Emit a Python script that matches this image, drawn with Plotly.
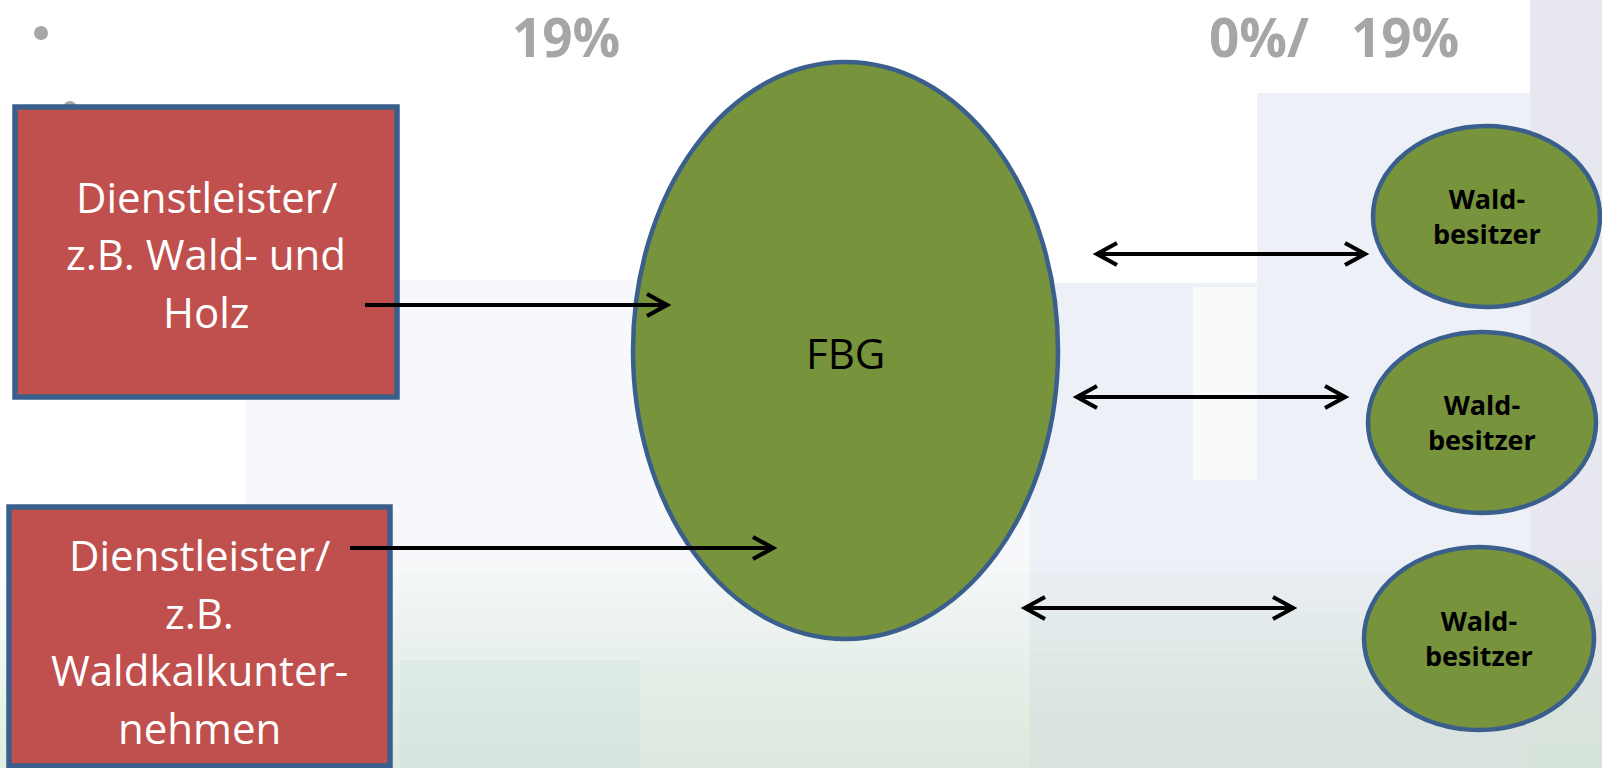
import plotly.graph_objects as go

W, H = 1602, 768

# ---- content ----
top_labels = ["19%", "0%/", "19%"]
provider_lines = [
    ["Dienstleister/", "z.B. Wald- und", "Holz"],
    ["Dienstleister/", "z.B.", "Waldkalkunter-", "nehmen"],
]
center_label = "FBG"
owner_labels = ["Wald-<br>besitzer", "Wald-<br>besitzer", "Wald-<br>besitzer"]

# ---- layout (pixel positions) ----
top_pos = [(566, 36), (1259, 36), (1405, 36)]
box_rects = [(15, 107, 397, 397), (9, 507, 390, 766)]
box_line_y = [[196, 253, 311], [554, 612, 669, 727]]
center_ellipse = (633, 62, 1058, 639)
center_text = (845, 352)
owner_ellipses = [(1373, 126, 1600, 307), (1368, 332, 1596, 513), (1364, 547, 1594, 730)]
single_arrows = [(365, 667, 305), (350, 773, 548)]
double_arrows = [(1097, 1365, 254), (1077, 1345, 397), (1025, 1293, 608)]

GREEN = "#77933c"
RED = "#c0504d"
BORDER = "#3a5f8c"
GRAY = "#a6a6a6"

fig = go.Figure()
fig.add_trace(go.Scatter(x=[0, W], y=[0, H], mode="markers",
                         marker=dict(opacity=0), hoverinfo="skip", showlegend=False))

shapes = []
# background approximation of blurred photo
bg = [
    (245, 280, 1030, 768, "#f7f8fb"),
    (1030, 283, 1602, 768, "#eef0f7"),
    (1257, 93, 1602, 283, "#eef0f7"),
    (1193, 287, 1257, 480, "#f9fafc"),
    (1530, 0, 1602, 768, "#e7e8ef"),
    (400, 660, 640, 768, "rgba(220,238,242,0.45)"),
]
for x0, y0, x1, y1, c in bg:
    shapes.append(dict(type="rect", xref="x", yref="y", x0=x0, y0=y0, x1=x1, y1=y1,
                       fillcolor=c, line=dict(width=0), layer="below"))
# soft green tint towards the bottom
for k in range(16):
    y0 = 560 + k * 13
    shapes.append(dict(type="rect", xref="x", yref="y", x0=0, y0=y0, x1=W, y1=H,
                       fillcolor="rgba(195,220,188,0.035)", line=dict(width=0), layer="below"))

# bullets
shapes.append(dict(type="circle", xref="x", yref="y", x0=34, y0=26, x1=48, y1=40,
                   fillcolor=GRAY, line=dict(width=0)))
shapes.append(dict(type="circle", xref="x", yref="y", x0=63, y0=101, x1=77, y1=115,
                   fillcolor=GRAY, line=dict(width=0)))

# provider boxes
for (x0, y0, x1, y1) in box_rects:
    shapes.append(dict(type="rect", xref="x", yref="y", x0=x0, y0=y0, x1=x1, y1=y1,
                       fillcolor=RED, line=dict(color=BORDER, width=5.5)))

# center ellipse
x0, y0, x1, y1 = center_ellipse
shapes.append(dict(type="circle", xref="x", yref="y", x0=x0, y0=y0, x1=x1, y1=y1,
                   fillcolor=GREEN, line=dict(color=BORDER, width=4.5)))

# owner ellipses
for (x0, y0, x1, y1) in owner_ellipses:
    shapes.append(dict(type="circle", xref="x", yref="y", x0=x0, y0=y0, x1=x1, y1=y1,
                       fillcolor=GREEN, line=dict(color=BORDER, width=4.5)))

AX, AY = 20, 11
def head(xt, y, direction):
    bx = xt - direction * AX
    return f"M{bx},{y - AY} L{xt},{y} L{bx},{y + AY}"

LW = 4.2
for (xa, xb, y) in single_arrows:
    shapes.append(dict(type="line", xref="x", yref="y", x0=xa, y0=y, x1=xb - 2, y1=y,
                       line=dict(color="black", width=LW)))
    shapes.append(dict(type="path", xref="x", yref="y", path=head(xb, y, 1),
                       line=dict(color="black", width=LW)))
for (xa, xb, y) in double_arrows:
    shapes.append(dict(type="line", xref="x", yref="y", x0=xa + 2, y0=y, x1=xb - 2, y1=y,
                       line=dict(color="black", width=LW)))
    shapes.append(dict(type="path", xref="x", yref="y", path=head(xb, y, 1),
                       line=dict(color="black", width=LW)))
    shapes.append(dict(type="path", xref="x", yref="y", path=head(xa, y, -1),
                       line=dict(color="black", width=LW)))

annotations = []
for lab, (x, y) in zip(top_labels, top_pos):
    annotations.append(dict(x=x, y=y, xref="x", yref="y", text=lab, showarrow=False,
                            xanchor="center", yanchor="middle",
                            font=dict(family="Open Sans", size=53, color=GRAY, weight="bold")))

for lines, (x0, y0, x1, y1), ys in zip(provider_lines, box_rects, box_line_y):
    cx = (x0 + x1) / 2
    for t, y in zip(lines, ys):
        annotations.append(dict(x=cx, y=y, xref="x", yref="y", text=t, showarrow=False,
                                xanchor="center", yanchor="middle",
                                font=dict(family="Open Sans", size=42, color="white")))

annotations.append(dict(x=center_text[0], y=center_text[1], xref="x", yref="y",
                        text=center_label, showarrow=False, xanchor="center", yanchor="middle",
                        font=dict(family="Open Sans", size=42, color="black")))

for lab, (x0, y0, x1, y1) in zip(owner_labels, owner_ellipses):
    annotations.append(dict(x=(x0 + x1) / 2, y=(y0 + y1) / 2 - 1, xref="x", yref="y",
                            text=lab, showarrow=False, xanchor="center", yanchor="middle",
                            font=dict(family="Open Sans", size=27, color="black", weight="bold")))

fig.update_layout(
    width=W, height=H, margin=dict(l=0, r=0, t=0, b=0),
    paper_bgcolor="white", plot_bgcolor="white",
    xaxis=dict(range=[0, W], visible=False, fixedrange=True),
    yaxis=dict(range=[H, 0], visible=False, fixedrange=True),
    shapes=shapes, annotations=annotations, showlegend=False,
)
fig.write_html("out.html", config={"displayModeBar": False})
